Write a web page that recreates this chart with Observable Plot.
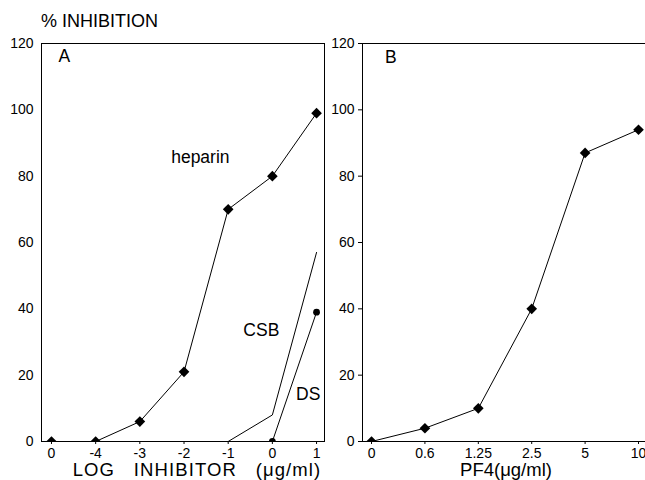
<!DOCTYPE html>
<html>
<head>
<meta charset="utf-8">
<script src="https://cdn.jsdelivr.net/npm/d3@7"></script>
<script src="https://cdn.jsdelivr.net/npm/@observablehq/plot@0.6"></script>
<style>
  html, body { margin: 0; padding: 0; background: #fff; }
  #wrap { position: relative; width: 645px; height: 480px; overflow: hidden; font-family: "Liberation Sans", Arial, sans-serif; }
  #title { position: absolute; left: 41px; top: 12px; font-size: 18px; line-height: 1; color: #000; }
  #pa { position: absolute; left: 0; top: 0; }
  #pb { position: absolute; left: 330px; top: 0; }
  svg text { white-space: pre; }
  g[aria-label^="x-axis"] { font-size: 14px; }
</style>
</head>
<body>
<div id="wrap">
  <div id="pa"></div>
  <div id="pb"></div>
  <div id="title">% INHIBITION</div>
</div>
<script>
// ---- Panel A data ----
const logTickPos    = [-5, -4, -3, -2, -1, 0, 1];
const logTickLabels = ["0", "-4", "-3", "-2", "-1", "0", "1"];
const heparinX = [-5, -4, -3, -2, -1, 0, 1];
const heparinY = [0, 0, 6, 21, 70, 80, 99];
const csbX = [-1, 0, 1];
const csbY = [0, 8, 57];
const dsX = [0, 1];
const dsY = [0, 39];
const labelsA = ["heparin", "CSB", "DS", "A"];
const labelsAX = [-1.63, -0.25, 0.81, -4.71];
const labelsAY = [85.6, 33.5, 14.2, 116];
const xLabelA = "LOG   INHIBITOR   (\u03bcg/ml)";

// ---- Panel B data ----
const pf4Labels = ["0", "0.6", "1.25", "2.5", "5", "10"];
const pf4Y = [0, 4, 10, 40, 87, 94];
const labelsB = ["B"];
const labelsBX = [0.36];
const labelsBY = [115.8];
const xLabelB = "PF4(\u03bcg/ml)";

const yTicks = [0, 20, 40, 60, 80, 100, 120];

const heparin = heparinX.map((x, i) => ({x, y: heparinY[i]}));
const csb = csbX.map((x, i) => ({x, y: csbY[i]}));
const ds = dsX.map((x, i) => ({x, y: dsY[i]}));
const annA = labelsA.map((t, i) => ({t, x: labelsAX[i], y: labelsAY[i]}));
const pf4 = pf4Labels.map((l, i) => ({x: i, y: pf4Y[i]}));
const annB = labelsB.map((t, i) => ({t, x: labelsBX[i], y: labelsBY[i]}));

const baseStyle = {fontFamily: "Liberation Sans, Arial, sans-serif", fontSize: "14px", background: "transparent", color: "#000", overflow: "visible"};

const plotA = Plot.plot({
  width: 330, height: 480,
  marginTop: 43, marginBottom: 39, marginLeft: 41, marginRight: 6,
  style: baseStyle,
  x: {domain: [-5.226, 1.18], ticks: logTickPos, tickFormat: (d) => logTickLabels[logTickPos.indexOf(d)], tickSize: 3, tickPadding: 4, label: null},
  y: {domain: [0, 120], ticks: yTicks, tickSize: 0, tickPadding: 8, label: null},
  marks: [
    Plot.line(heparin, {x: "x", y: "y", stroke: "#000", strokeWidth: 1}),
    Plot.line(csb, {x: "x", y: "y", stroke: "#000", strokeWidth: 1}),
    Plot.line(ds, {x: "x", y: "y", stroke: "#000", strokeWidth: 1}),
    Plot.dot(heparin, {x: "x", y: "y", symbol: "diamond2", r: 4.8, fill: "#000", stroke: "none", clip: true}),
    Plot.dot(ds, {x: "x", y: "y", r: 3.4, fill: "#000", stroke: "none", clip: true}),
    Plot.text(annA, {x: "x", y: "y", text: "t", fontSize: 17.5, fill: "#000"}),
    Plot.text([xLabelA], {frameAnchor: "bottom", dy: 34.5, dx: 14, fontSize: 18.5, fill: "#000"}),
    Plot.frame({stroke: "#000"})
  ]
});
d3.select(plotA).selectAll("text").filter(function() { return this.textContent === xLabelA; }).style("letter-spacing", "1.1px");
document.getElementById("pa").appendChild(plotA);

const plotB = Plot.plot({
  width: 315, height: 480,
  marginTop: 43, marginBottom: 39, marginLeft: 32, marginRight: 0,
  style: baseStyle,
  x: {domain: [-0.169, 5.131], ticks: d3.range(pf4Labels.length), tickFormat: (i) => pf4Labels[i], tickSize: 3, tickPadding: 4, label: null, line: true},
  y: {domain: [0, 120], ticks: yTicks, tickSize: 4, tickPadding: 4, label: null, line: true},
  marks: [
    Plot.ruleY([120], {stroke: "#000"}),
    Plot.line(pf4, {x: "x", y: "y", stroke: "#000", strokeWidth: 1}),
    Plot.dot(pf4, {x: "x", y: "y", symbol: "diamond2", r: 4.8, fill: "#000", stroke: "none", clip: true}),
    Plot.text(annB, {x: "x", y: "y", text: "t", fontSize: 17.5, fill: "#000"}),
    Plot.text([xLabelB], {frameAnchor: "bottom", dy: 34.5, dx: 2, fontSize: 18.5, fill: "#000"})
  ]
});
document.getElementById("pb").appendChild(plotB);
</script>
</body>
</html>
